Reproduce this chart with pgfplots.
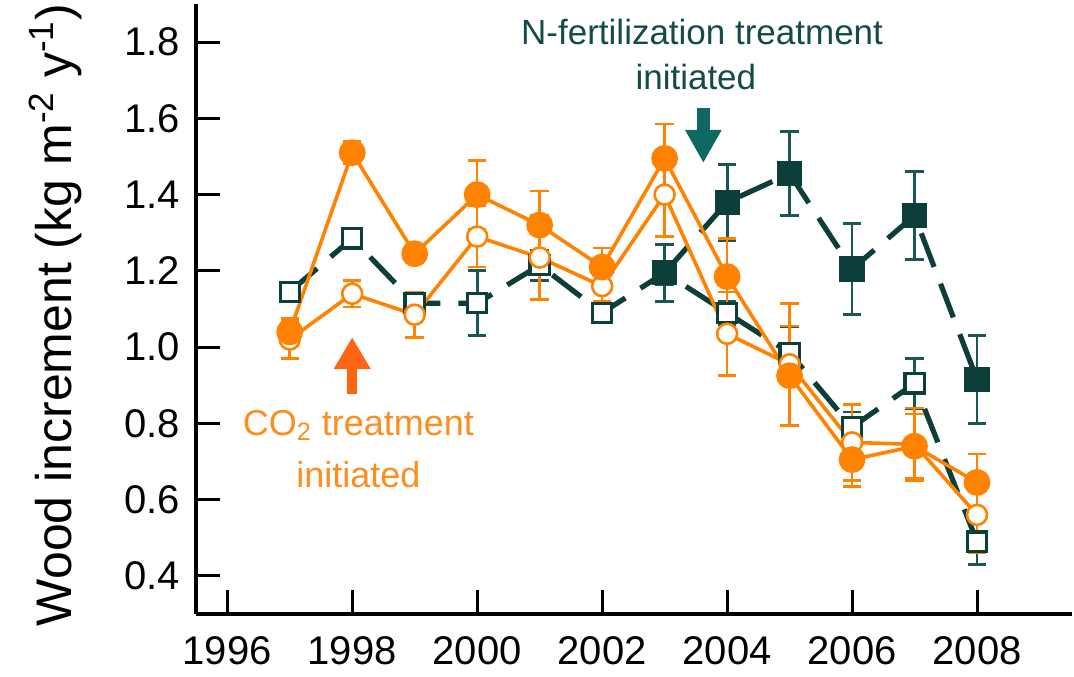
\documentclass[border=0pt]{standalone}
\usepackage{fontspec}
\setmainfont{Liberation Sans}
\usepackage{pgfplots}
\pgfplotsset{compat=1.18}
\usetikzlibrary{arrows.meta}

\definecolor{orng}{RGB}{255,130,0}
\definecolor{orngtxt}{RGB}{255,140,30}
\definecolor{orngarr}{RGB}{255,100,20}
\definecolor{tealdk}{RGB}{12,62,58}
\definecolor{tealerr}{RGB}{25,88,82}
\definecolor{tealtxt}{RGB}{20,75,70}
\definecolor{tealarr}{RGB}{15,105,98}

% year, value, error
\pgfplotstableread{
x y e
1997 1.145 0.01
1998 1.285 0.02
1999 1.115 0.02
2000 1.115 0.085
2001 1.215 0.04
2002 1.09 0.02
2003 1.195 0.03
2004 1.09 0.03
2005 0.985 0.07
2006 0.79 0.04
2007 0.905 0.065
2008 0.49 0.06
}\opensq
\pgfplotstableread{
x y e
2003 1.195 0.075
2004 1.38 0.10
2005 1.455 0.11
2006 1.205 0.12
2007 1.345 0.115
2008 0.915 0.115
}\fillsq
\pgfplotstableread{
x y e
1997 1.02 0.05
1998 1.14 0.035
1999 1.085 0.06
2000 1.29 0.08
2001 1.235 0.11
2002 1.16 0.04
2003 1.40 0.11
2004 1.035 0.11
2005 0.955 0.16
2006 0.75 0.10
2007 0.745 0.095
2008 0.56 0.10
}\opencirc
\pgfplotstableread{
x y e
1997 1.04 0.035
1998 1.51 0.03
1999 1.245 0.02
2000 1.40 0.09
2001 1.32 0.09
2002 1.21 0.05
2003 1.495 0.09
2004 1.185 0.10
2005 0.925 0.13
2006 0.705 0.07
2007 0.74 0.085
2008 0.645 0.075
}\fillcirc

\begin{document}
\begin{tikzpicture}
\begin{axis}[
    scale only axis, width=438pt, height=305pt,
    xmin=1995.5, xmax=2009.52, ymin=0.3, ymax=1.9,
    axis x line*=bottom, axis y line*=left,
    axis line style={-, line width=2pt, black},
    xtick={1996,1998,2000,2002,2004,2006,2008},
    ytick={0.4,0.6,0.8,1.0,1.2,1.4,1.6,1.8},
    tick align=inside, major tick length=12pt,
    tick style={line width=1.5pt, black},
    ticklabel style={font=\fontsize{20}{24}\selectfont},
    x tick label style={/pgf/number format/1000 sep={},
        /pgf/number format/assume math mode=true, yshift=-7.5pt},
    y tick label style={/pgf/number format/fixed,
        /pgf/number format/fixed zerofill, /pgf/number format/precision=1,
        /pgf/number format/assume math mode=true, xshift=-4.5pt},
    every axis y label/.style={at={([xshift=-62pt]rel axis cs:0,0.49)},
        rotate=90, anchor=base, font=\fontsize{25}{30}\selectfont},
    ylabel={Wood increment (kg m\textsuperscript{-2} y\textsuperscript{-1})},
    clip=false,
    error bars/y dir=both, error bars/y explicit,
    error bars/error mark=-,
]
\coordinate (O) at (rel axis cs:0,0);

\addplot[tealdk, line width=2.6pt, dash pattern=on 18pt off 9pt,
    mark=square*, mark size=4.8pt,
    mark options={solid, fill=white, draw=tealdk, line width=1.6pt},
    error bars/error bar style={solid, line width=1.4pt, tealerr},
    error bars/error mark options={rotate=90, solid, line width=1.4pt, tealerr, mark size=4.6pt}]
    table[x=x, y=y, y error=e] {\opensq};

\addplot[tealdk, line width=2.6pt, dash pattern=on 18pt off 9pt,
    mark=square*, mark size=5pt,
    mark options={solid, fill=tealdk, draw=tealdk},
    error bars/error bar style={solid, line width=1.4pt, tealerr},
    error bars/error mark options={rotate=90, solid, line width=1.4pt, tealerr, mark size=4.6pt}]
    table[x=x, y=y, y error=e] {\fillsq};

\addplot[orng, line width=1.8pt,
    mark=*, mark size=5pt,
    mark options={fill=white, draw=orng, line width=1.3pt},
    error bars/error bar style={line width=1.3pt, orng},
    error bars/error mark options={rotate=90, line width=1.3pt, orng, mark size=4.6pt}]
    table[x=x, y=y, y error=e] {\opencirc};

\addplot[orng, line width=1.8pt,
    mark=*, mark size=5.8pt,
    mark options={fill=orng, draw=orng},
    error bars/error bar style={line width=1.3pt, orng},
    error bars/error mark options={rotate=90, line width=1.3pt, orng, mark size=4.6pt}]
    table[x=x, y=y, y error=e] {\fillcirc};

% treatment annotations
\draw[orngarr, line width=5pt, -{Triangle[width=17.5pt,length=16pt]}]
    (axis cs:1998,0.877) -- (axis cs:1998,1.026);
\node[orngtxt, anchor=base, font=\fontsize{18}{22}\selectfont]
    at (axis cs:1998.1,0.769) {CO\textsubscript{2} treatment};
\node[orngtxt, anchor=base, font=\fontsize{18}{22}\selectfont]
    at (axis cs:1998.1,0.633) {initiated};

\draw[tealarr, line width=6.5pt, -{Triangle[width=17pt,length=16.5pt]}]
    (axis cs:2003.62,1.627) -- (axis cs:2003.62,1.483);
\node[tealtxt, anchor=base, font=\fontsize{17.5}{21}\selectfont]
    at (axis cs:2003.6,1.793) {N-fertilization treatment};
\node[tealtxt, anchor=base, font=\fontsize{17.5}{21}\selectfont]
    at (axis cs:2003.5,1.675) {initiated};
\end{axis}
\pgfresetboundingbox
\path[use as bounding box] ([shift={(-98pt,-31pt)}]O) rectangle ([shift={(439pt,307pt)}]O);
\end{tikzpicture}
\end{document}
